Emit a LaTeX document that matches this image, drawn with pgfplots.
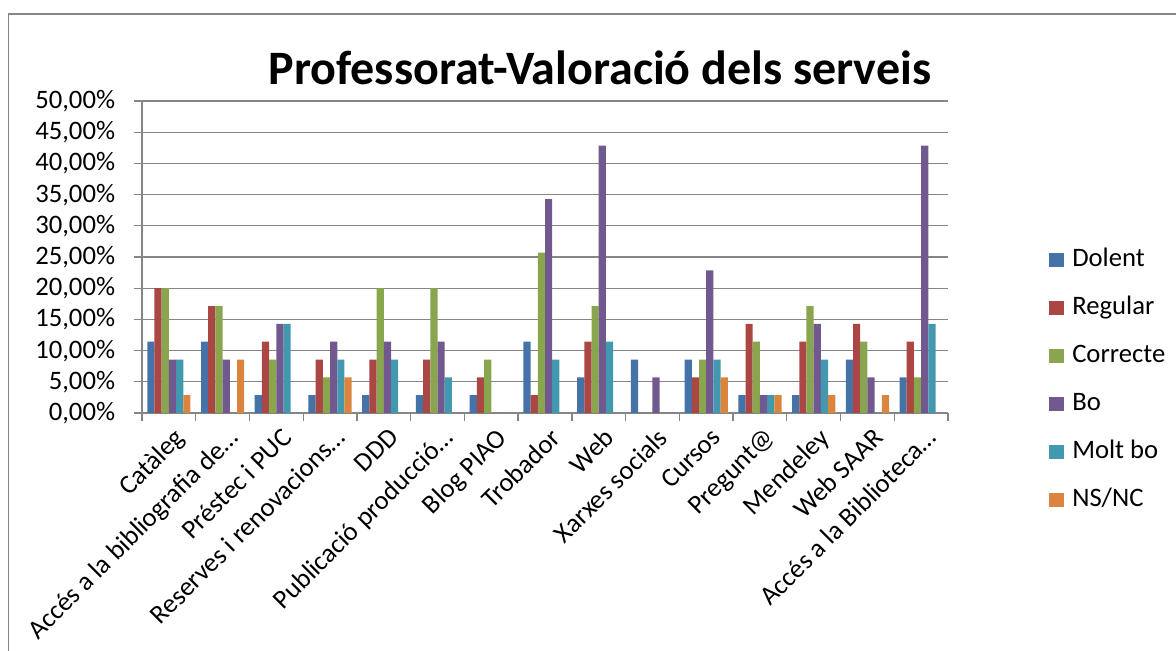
\documentclass[border=0pt]{standalone}
\usepackage{fontspec}
\setmainfont{Carlito}
\usepackage{pgfplots}
\usepackage{pgfplotstable}
\pgfplotsset{compat=1.18}
\definecolor{cA}{HTML}{4572A7}
\definecolor{cB}{HTML}{AA4643}
\definecolor{cC}{HTML}{89A54E}
\definecolor{cD}{HTML}{71588F}
\definecolor{cE}{HTML}{4198AF}
\definecolor{cF}{HTML}{DB843D}
\definecolor{gridgray}{HTML}{868686}
\pgfplotstableread{
x Dolent Regular Correcte Bo MoltBo NSNC
0  11.43 20.00 20.00  8.57  8.57 2.86
1  11.43 17.14 17.14  8.57  0    8.57
2  2.86  11.43  8.57 14.29 14.29 0
3  2.86   8.57  5.71 11.43  8.57 5.71
4  2.86   8.57 20.00 11.43  8.57 0
5  2.86   8.57 20.00 11.43  5.71 0
6  2.86   5.71  8.57  0     0    0
7  11.43  2.86 25.71 34.29  8.57 0
8  5.71  11.43 17.14 42.86 11.43 0
9  8.57   0     0     5.71  0    0
10 8.57   5.71  8.57 22.86  8.57 5.71
11 2.86  14.29 11.43  2.86  2.86 2.86
12 2.86  11.43 17.14 14.29  8.57 2.86
13 8.57  14.29 11.43  5.71  0    2.86
14 5.71  11.43  5.71 42.86 14.29 0
}\datatable
\begin{document}
\begin{tikzpicture}
\useasboundingbox (0,0) rectangle (882pt,-487.5pt);
\draw[gridgray, line width=1.2pt] (6.4pt,-490pt) -- (6.4pt,-10.5pt) -- (885pt,-10.5pt);
\node[font=\bfseries\fontsize{36}{40}\selectfont] at (450pt,-51pt) {Professorat-Valoració dels serveis};
\begin{axis}[
  at={(106.5pt,-309.75pt)}, anchor=south west,
  scale only axis, width=604.5pt, height=234pt,
  ybar=0pt, bar width=5.4pt,
  xmin=-0.5, xmax=14.5, ymin=0, ymax=50,
  axis x line*=bottom, axis y line*=left,
  axis line style={draw=gridgray, line width=1pt, -},
  ytick={0,5,...,50},
  yticklabels={{0,00\%},{5,00\%},{10,00\%},{15,00\%},{20,00\%},{25,00\%},{30,00\%},{35,00\%},{40,00\%},{45,00\%},{50,00\%}},
  ymajorgrids, major grid style={gridgray, line width=1pt},
  tick align=outside, major tick length=6pt,
  tick style={gridgray, line width=1pt},
  xtick={-0.5,0.5,...,14.5}, xticklabels={},
  extra x ticks={0,1,...,14},
  extra x tick labels={Catàleg,Accés a la bibliografia de…,Préstec i PUC,Reserves i renovacions…,DDD,Publicació producció…,Blog PIAO,Trobador,Web,Xarxes socials,Cursos,Pregunt@,Mendeley,Web SAAR,Accés a la Biblioteca…},
  extra x tick style={major tick length=0pt, xticklabel style={rotate=45, anchor=north east, inner sep=0pt, yshift=-9pt, xshift=-5pt}},
  ticklabel style={font=\fontsize{20}{24}\selectfont},
  yticklabel style={anchor=east, inner sep=0pt, xshift=-14pt},
  /pgf/number format/assume math mode=true,
  legend style={at={(1.1253,0.1058)}, anchor=west, draw=none, fill=none, inner sep=0pt,
    font=\fontsize{20}{24}\selectfont, row sep=18pt, column sep=6pt,
    nodes={inner sep=0pt, text height=14pt, text depth=4pt}},
  legend cell align=left,
  legend image code/.code={\draw[#1,draw=none] (0pt,-5.6pt) rectangle (11.25pt,5.6pt);},
]
\addplot[fill=cA, draw=none] table[x=x, y=Dolent] {\datatable};
\addplot[fill=cB, draw=none] table[x=x, y=Regular] {\datatable};
\addplot[fill=cC, draw=none] table[x=x, y=Correcte] {\datatable};
\addplot[fill=cD, draw=none] table[x=x, y=Bo] {\datatable};
\addplot[fill=cE, draw=none] table[x=x, y=MoltBo] {\datatable};
\addplot[fill=cF, draw=none] table[x=x, y=NSNC] {\datatable};
\legend{Dolent,Regular,Correcte,Bo,Molt bo,NS/NC}
\end{axis}
\end{tikzpicture}
\end{document}
